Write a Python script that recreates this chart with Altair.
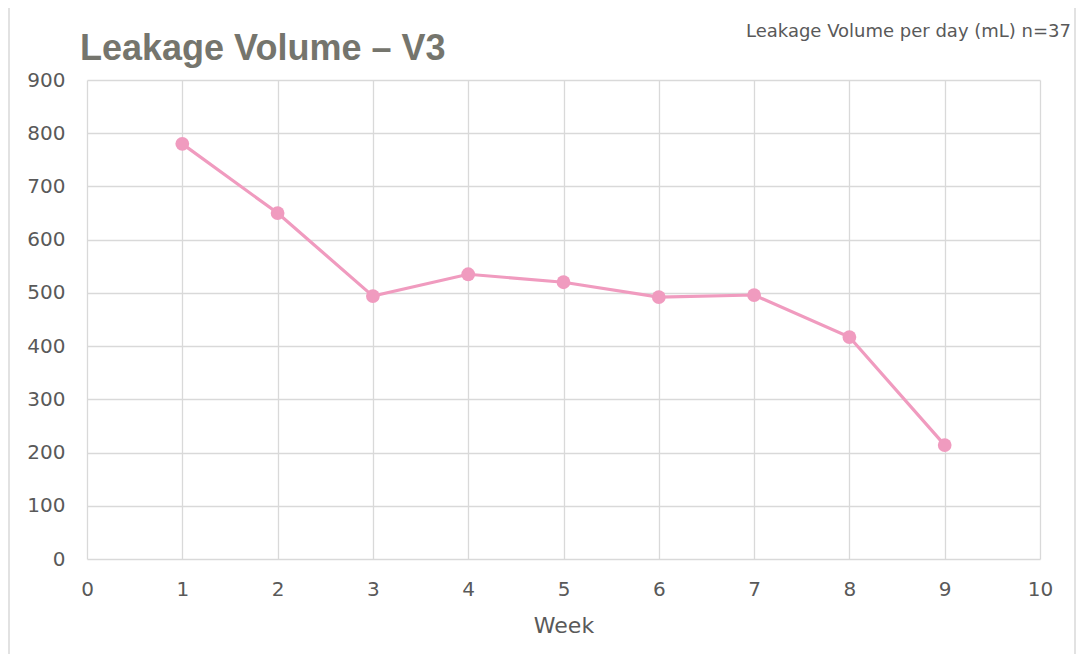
import altair as alt
import pandas as pd

weeks = [1, 2, 3, 4, 5, 6, 7, 8, 9]
volumes = [780, 650, 494, 535, 520, 492, 496, 417, 214]
x_ticks = [0, 1, 2, 3, 4, 5, 6, 7, 8, 9, 10]
y_ticks = [0, 100, 200, 300, 400, 500, 600, 700, 800, 900]
title_text = "Leakage Volume \u2013 V3"
note_text = "Leakage Volume per day (mL) n=37"

df = pd.DataFrame({"Week": weeks, "Volume": volumes})

PINK = "#f09bbf"
FONT = "DejaVu Sans"

x = alt.X("Week:Q", scale=alt.Scale(domain=[0, 10], nice=False),
          axis=alt.Axis(values=x_ticks, title="Week", grid=True, gridColor="#d9d9d9",
                        gridWidth=1.3, domain=False, ticks=False, labelPadding=20,
                        labelFontSize=20, labelFlush=False,
                        labelFont=FONT, labelColor="#595959", titleFont=FONT,
                        titleFontSize=22, titleFontWeight="normal", titleColor="#595959",
                        titlePadding=16, format="d"))
y = alt.Y("Volume:Q", scale=alt.Scale(domain=[0, 900], nice=False),
          axis=alt.Axis(values=y_ticks, title=None, grid=True, gridColor="#d9d9d9",
                        gridWidth=1.3, domain=False, ticks=False, labelPadding=22,
                        labelFontSize=20, labelFlush=False,
                        labelFont=FONT, labelColor="#595959", format="d"))

base = alt.Chart(df)
line = base.mark_line(color=PINK, strokeWidth=3.2).encode(x=x, y=y)
pts = base.mark_circle(color=PINK, size=190, opacity=1).encode(x="Week:Q", y="Volume:Q")

frame = alt.Chart(pd.DataFrame({"a": [0]})).mark_rect(
    fill=None, stroke="#d9d9d9", strokeWidth=1.5
).encode(x=alt.value(-78), x2=alt.value(988), y=alt.value(-76), y2=alt.value(640))

title = alt.Chart(pd.DataFrame({"t": [title_text]})).mark_text(
    align="left", baseline="alphabetic", font="Liberation Sans", fontWeight="bold",
    fontSize=36, color="#75756d"
).encode(text="t:N", x=alt.value(-7), y=alt.value(-20))

note = alt.Chart(pd.DataFrame({"t": [note_text]})).mark_text(
    align="right", baseline="alphabetic", font=FONT, fontSize=18, color="#595959"
).encode(text="t:N", x=alt.value(984), y=alt.value(-43))

chart = alt.layer(frame, line, pts, title, note).properties(
    width=953, height=479,
    autosize=alt.AutoSizeParams(type="none"),
    padding={"left": 79, "top": 72, "right": 37, "bottom": 95},
).configure_view(stroke=None)

chart.save("out.html", embed_options={"renderer": "svg", "actions": False})
